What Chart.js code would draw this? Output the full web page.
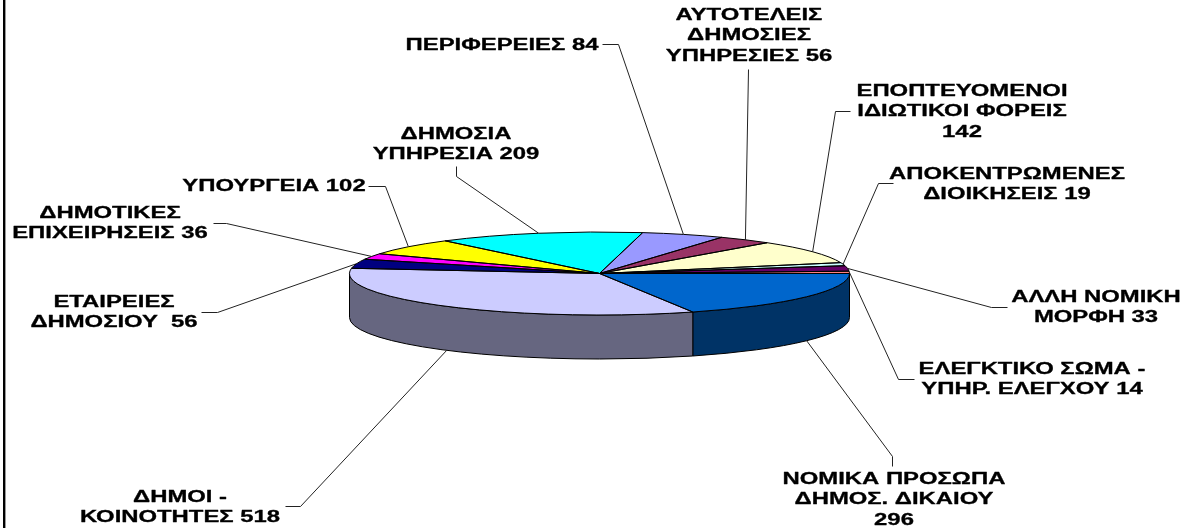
<!DOCTYPE html>
<html><head><meta charset="utf-8">
<style>html,body{margin:0;padding:0;background:#fff}#w{position:relative;width:1190px;height:528px}canvas{display:block}</style>
<script src="https://cdn.jsdelivr.net/npm/chart.js@4/dist/chart.umd.min.js"></script>
</head><body><div id="w"><canvas id="c" width="1190" height="528"></canvas></div>
<script>
const categories = ["ΝΟΜΙΚΑ ΠΡΟΣΩΠΑ ΔΗΜΟΣ. ΔΙΚΑΙΟΥ","ΔΗΜΟΙ - ΚΟΙΝΟΤΗΤΕΣ","ΕΤΑΙΡΕΙΕΣ ΔΗΜΟΣΙΟΥ","ΔΗΜΟΤΙΚΕΣ ΕΠΙΧΕΙΡΗΣΕΙΣ","ΥΠΟΥΡΓΕΙΑ","ΔΗΜΟΣΙΑ ΥΠΗΡΕΣΙΑ","ΠΕΡΙΦΕΡΕΙΕΣ","ΑΥΤΟΤΕΛΕΙΣ ΔΗΜΟΣΙΕΣ ΥΠΗΡΕΣΙΕΣ","ΕΠΟΠΤΕΥΟΜΕΝΟΙ ΙΔΙΩΤΙΚΟΙ ΦΟΡΕΙΣ","ΑΠΟΚΕΝΤΡΩΜΕΝΕΣ ΔΙΟΙΚΗΣΕΙΣ","ΑΛΛΗ ΝΟΜΙΚΗ ΜΟΡΦΗ","ΕΛΕΓΚΤΙΚΟ ΣΩΜΑ - ΥΠΗΡ. ΕΛΕΓΧΟΥ"];
const values = [296,518,56,36,102,209,84,56,142,19,33,14];
const topColors = ["#0066CC","#CCCCFF","#000080","#FF00FF","#FFFF00","#00FFFF","#9999FF","#993366","#FFFFCC","#CCFFFF","#660066","#FF8080"];
const sideColors = ["#003366","#666680","#000040","#800080","#808000","#008080","#4D4D80","#4D1A33","#808066","#668080","#330033","#804040"];
const labelLines = [
 ["ΝΟΜΙΚΑ ΠΡΟΣΩΠΑ","ΔΗΜΟΣ. ΔΙΚΑΙΟΥ","296"],
 ["ΔΗΜΟΙ -","ΚΟΙΝΟΤΗΤΕΣ 518"],
 ["ΕΤΑΙΡΕΙΕΣ","ΔΗΜΟΣΙΟΥ  56"],
 ["ΔΗΜΟΤΙΚΕΣ","ΕΠΙΧΕΙΡΗΣΕΙΣ 36"],
 ["ΥΠΟΥΡΓΕΙΑ 102"],
 ["ΔΗΜΟΣΙΑ","ΥΠΗΡΕΣΙΑ 209"],
 ["ΠΕΡΙΦΕΡΕΙΕΣ 84"],
 ["ΑΥΤΟΤΕΛΕΙΣ","ΔΗΜΟΣΙΕΣ","ΥΠΗΡΕΣΙΕΣ 56"],
 ["ΕΠΟΠΤΕΥΟΜΕΝΟΙ","ΙΔΙΩΤΙΚΟΙ ΦΟΡΕΙΣ","142"],
 ["ΑΠΟΚΕΝΤΡΩΜΕΝΕΣ","ΔΙΟΙΚΗΣΕΙΣ 19"],
 ["ΑΛΛΗ ΝΟΜΙΚΗ","ΜΟΡΦΗ 33"],
 ["ΕΛΕΓΚΤΙΚΟ ΣΩΜΑ -","ΥΠΗΡ. ΕΛΕΓΧΟΥ 14"]
];
// label layout: centre x, first-line centre y
const labelX = [894,180,114,110,274,456,502,749,962,1007,1096,1032];
const labelY = [479,497,302,213,186,134,45,15,91,174,297,369];
// leader line knots, from the label outwards, ending at the slice
const leaders = [
 [[892,466],[892,456]],
 [[285,506],[300,506]],
 [[201,312],[217,312]],
 [[213,223],[226,223]],
 [[368,186],[385,186]],
 [[456,166],[456,176]],
 [[602,44],[618,44]],
 [[748,69]],
 [[850,111],[835,111]],
 [[893,183],[878,183]],
 [[1007,307],[991,307]],
 [[914,379],[898,379]]
];
const SQUASH = 0.166, DEPTH = 44, LINE_H = 20.3, FONT = 16, STRETCH = 1.49;

function arcPath(ctx, a, from, to) {
  ctx.moveTo(a.x, a.y);
  ctx.arc(a.x, a.y, a.outerRadius, from, to);
  ctx.closePath();
}
const pie3d = {
  id: 'pie3d',
  beforeDraw(chart) {
    const ctx = chart.ctx;
    ctx.save();
    ctx.fillStyle = '#000';
    ctx.fillRect(3, 0, 2, chart.height);
    ctx.fillStyle = '#999';
    ctx.fillRect(5, 0, 1, chart.height);
    ctx.restore();
  },
  beforeDatasetDraw(chart) {
    const ctx = chart.ctx, arcs = chart.getDatasetMeta(0).data;
    const a0 = arcs[0], cx = a0.x, cy = a0.y, r = a0.outerRadius;
    // side wall
    ctx.save();
    ctx.lineWidth = 1; ctx.strokeStyle = '#000'; ctx.lineJoin = 'round';
    arcs.forEach((a, i) => {
      const s = Math.max(a.startAngle, 0), e = Math.min(a.endAngle, Math.PI);
      if (e <= s) return;
      ctx.beginPath();
      ctx.save(); ctx.translate(cx, cy); ctx.scale(1, SQUASH);
      ctx.arc(0, 0, r, s, e);
      ctx.restore();
      ctx.save(); ctx.translate(cx, cy + DEPTH); ctx.scale(1, SQUASH);
      ctx.arc(0, 0, r, e, s, true);
      ctx.restore();
      ctx.closePath();
      ctx.fillStyle = sideColors[i]; ctx.fill(); ctx.stroke();
    });
    ctx.restore();
    // leader lines sit behind the cake
    ctx.save();
    ctx.lineWidth = 1; ctx.strokeStyle = '#222';
    arcs.forEach((a, i) => {
      const m = (a.startAngle + a.endAngle) / 2;
      const px = cx + r * Math.cos(m);
      const py = cy + r * SQUASH * Math.sin(m) + (Math.sin(m) > 0.05 ? DEPTH : 0);
      ctx.beginPath();
      leaders[i].forEach((p, k) => k ? ctx.lineTo(p[0] + .5, p[1] + .5) : ctx.moveTo(p[0] + .5, p[1] + .5));
      ctx.lineTo(px, py);
      ctx.stroke();
    });
    ctx.restore();
    // squash the top face
    ctx.save();
    ctx.translate(cx, cy); ctx.scale(1, SQUASH); ctx.translate(-cx, -cy);
  },
  afterDatasetDraw(chart) {
    const ctx = chart.ctx, arcs = chart.getDatasetMeta(0).data;
    ctx.restore();
    const cx = arcs[0].x, cy = arcs[0].y;
    // slice outlines at an even pen width
    ctx.save();
    ctx.lineWidth = 1; ctx.strokeStyle = '#000'; ctx.lineJoin = 'round';
    arcs.forEach(a => {
      ctx.beginPath();
      ctx.save();
      ctx.translate(cx, cy); ctx.scale(1, SQUASH); ctx.translate(-cx, -cy);
      arcPath(ctx, a, a.startAngle, a.endAngle);
      ctx.restore();
      ctx.stroke();
    });
    ctx.restore();
  },
  afterDraw(chart) {
    const ctx = chart.ctx;
    ctx.save();
    ctx.fillStyle = '#000'; ctx.strokeStyle = '#000'; ctx.lineWidth = 0.3; ctx.lineJoin = 'round';
    ctx.font = 'bold ' + FONT + 'px "Liberation Sans", Arial, sans-serif';
    ctx.textAlign = 'center'; ctx.textBaseline = 'middle';
    labelLines.forEach((lines, i) => {
      lines.forEach((t, k) => {
        ctx.save();
        ctx.translate(labelX[i], labelY[i] + 0.5 + k * LINE_H);
        ctx.scale(STRETCH, 1);
        ctx.fillText(t, 0, 0);
        ctx.strokeText(t, 0, 0);
        ctx.restore();
      });
    });
    ctx.restore();
  }
};
new Chart(document.getElementById('c'), {
  type: 'pie',
  plugins: [pie3d],
  data: { labels: categories, datasets: [{ data: values, backgroundColor: topColors, borderWidth: 0, clip: false }] },
  options: {
    responsive: false, animation: false, rotation: 90, radius: 250,
    layout: { padding: { left: 9, top: 19, right: 0, bottom: 0 } },
    events: [],
    plugins: { legend: { display: false }, tooltip: { enabled: false } }
  }
});
</script></body></html>
